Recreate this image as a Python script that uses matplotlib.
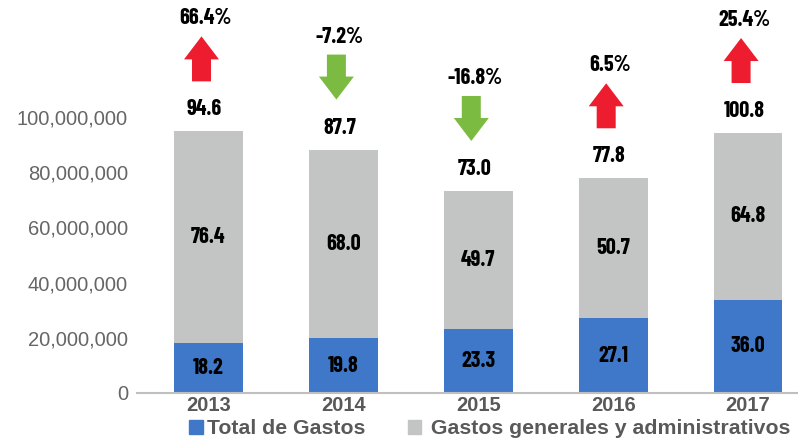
import matplotlib
matplotlib.use("Agg")
import matplotlib.pyplot as plt
import matplotlib.transforms as mtransforms
from matplotlib import font_manager
from matplotlib.patches import Polygon, Patch

# ---- data ----
years = ["2013", "2014", "2015", "2016", "2017"]
total_gastos = [18.2e6, 19.8e6, 23.3e6, 27.1e6, 33.8e6]          # blue segment heights
gastos_generales = [76.6e6, 68.4e6, 49.9e6, 50.7e6, 60.4e6]      # gray segment heights
total_labels = ["18.2", "19.8", "23.3", "27.1", "36.0"]
generales_labels = ["76.4", "68.0", "49.7", "50.7", "64.8"]
sum_labels = ["94.6", "87.7", "73.0", "77.8", "100.8"]
pct_labels = ["66.4%", "-7.2%", "-16.8%", "6.5%", "25.4%"]
yticks = [0, 20e6, 40e6, 60e6, 80e6, 100e6]

BLUE = "#3F78C8"
GRAY = "#C3C4C4"
RED = "#ED1C2E"
GREEN = "#7CBB42"
TXT = "#595959"

def pick(*fams):
    for fam in fams:
        try:
            font_manager.findfont(font_manager.FontProperties(family=fam, weight="bold"),
                                  fallback_to_default=False)
            return fam
        except Exception:
            pass
    return "DejaVu Sans"

COND = pick("Barlow Condensed", "Roboto Condensed", "Oswald")
SANS = pick("Liberation Sans", "Arimo")

fig = plt.figure(figsize=(7.98, 4.42), dpi=100)
ax = fig.add_axes([137 / 798, 1 - 393 / 442, 1 - 137 / 798, 393 / 442])
x = list(range(len(years)))
bw = 0.51
ax.bar(x, total_gastos, width=bw, color=BLUE, zorder=2)
ax.bar(x, gastos_generales, bottom=total_gastos, width=bw, color=GRAY, zorder=2)

ax.set_xlim(-0.53, 4.37)
ax.set_ylim(0, 142.4e6)
for s in ["top", "right", "left"]:
    ax.spines[s].set_visible(False)
ax.spines["bottom"].set_color("#BFBFBF")
ax.spines["bottom"].set_linewidth(1.5)
ax.set_yticks(yticks)
ax.set_yticklabels([f"{int(v):,}" for v in yticks], fontsize=14.5, color="#666666", family=SANS)
ax.set_xticks(x)
ax.set_xticklabels(years, fontsize=14.5, fontweight="bold", color=TXT, family=SANS)
ax.tick_params(axis="y", length=0, pad=6.5)
ax.tick_params(axis="x", length=0, pad=2)

lab_kw = dict(ha="center", va="center", fontsize=16, fontweight="bold", color="black", family=COND, zorder=4)
for i in x:
    b = total_gastos[i]
    g = gastos_generales[i]
    top = b + g
    ax.text(i, b / 2, total_labels[i], **lab_kw)
    ax.text(i, b + g / 2, generales_labels[i], **lab_kw)
    base = mtransforms.ScaledTranslation(i, top, ax.transData)
    trans = fig.dpi_scale_trans + base
    # total label above bar
    ax.text(-0.04, 0.22, sum_labels[i], transform=trans, clip_on=False, **lab_kw)
    # arrow
    up = not pct_labels[i].startswith("-")
    cx = -0.07
    hw, sw = 0.175, 0.095
    y0, y1 = 0.50, 0.95
    if up:
        yh = 0.72
        verts = [(cx - sw, y0), (cx + sw, y0), (cx + sw, yh), (cx + hw, yh), (cx, y1),
                 (cx - hw, yh), (cx - sw, yh)]
        col = RED
    else:
        yh = 0.73
        verts = [(cx - sw, y1), (cx + sw, y1), (cx + sw, yh), (cx + hw, yh), (cx, y0),
                 (cx - hw, yh), (cx - sw, yh)]
        col = GREEN
    ax.add_patch(Polygon(verts, closed=True, transform=trans, color=col, clip_on=False, lw=0, zorder=4))
    ax.text(-0.035, 1.13, pct_labels[i], transform=trans, clip_on=False, **lab_kw)

handles = [Patch(color=BLUE), Patch(color=GRAY)]
leg = fig.legend(handles, ["Total de Gastos", " Gastos generales y administrativos"],
                 loc="center", bbox_to_anchor=(490 / 798, 1 - 429 / 442), ncol=2, frameon=False,
                 handlelength=0.62, handleheight=0.62, handletextpad=0.2, columnspacing=2.0,
                 borderpad=0.2, prop=dict(family=SANS, weight="bold", size=15.3))
for t in leg.get_texts():
    t.set_color(TXT)

fig.savefig("out.png", dpi=100)
